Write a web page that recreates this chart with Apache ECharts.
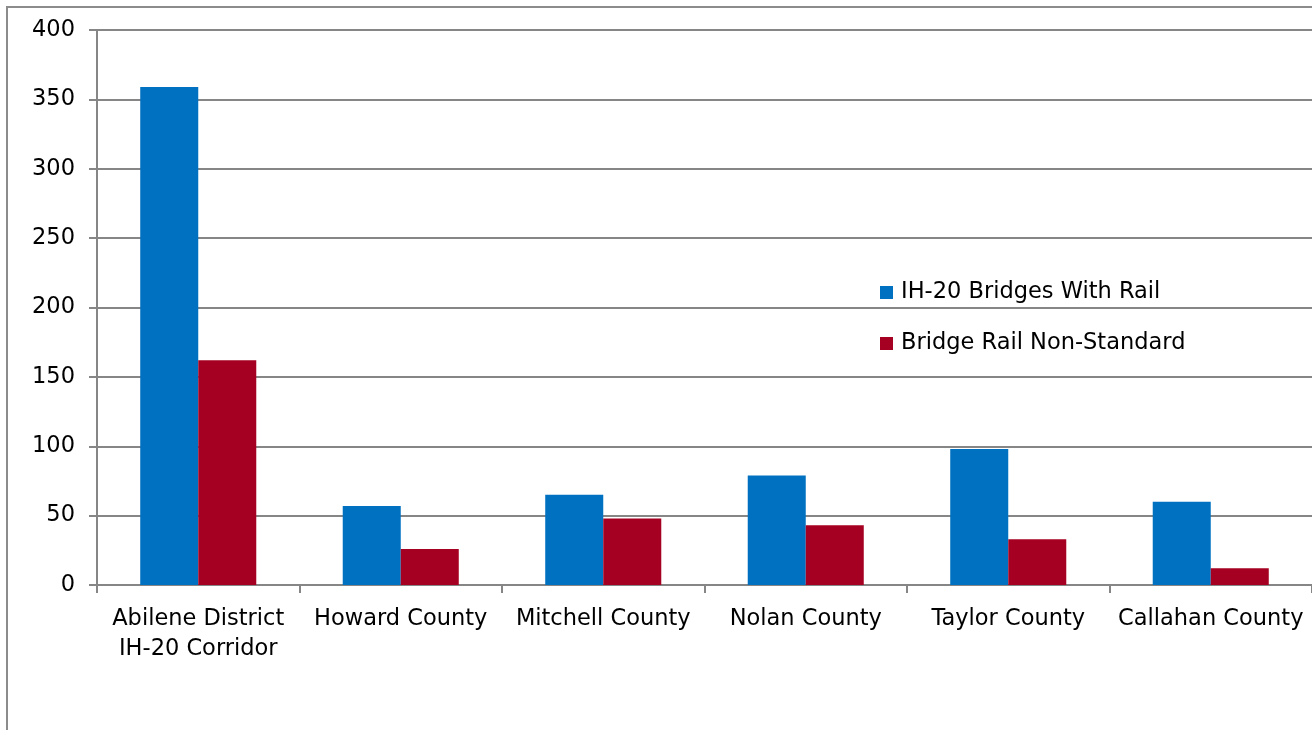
<!DOCTYPE html>
<html><head><meta charset="utf-8">
<script src="https://cdn.jsdelivr.net/npm/echarts@6/dist/echarts.min.js"></script>
<style>html,body{margin:0;padding:0;background:#fff}#c{width:1312px;height:730px}</style>
</head><body><div id="c"></div>
<script>
const categories = ['Abilene District\nIH-20 Corridor','Howard County','Mitchell County','Nolan County','Taylor County','Callahan County'];
const bridgesWithRail = [359, 57, 65, 79, 98, 60];
const railNonStandard = [162, 26, 48, 43, 33, 12];
const yTicks = [0, 400, 50];
const FONT = 'DejaVu Sans';
const chart = echarts.init(document.getElementById('c'));
chart.setOption({
  animation: false,
  textStyle: {fontFamily: FONT},
  graphic: [{type:'rect', shape:{x:7,y:7,width:1400,height:800}, style:{fill:'none', stroke:'#8c8c8c', lineWidth:2}, z:-1}],
  grid: {left: 97, right: -1, top: 30, bottom: 145},
  legend: {
    orient: 'vertical', left: 875, top: 276, itemGap: 28, itemWidth: 13, itemHeight: 13,
    icon: 'rect', textStyle: {fontSize: 22.5, color: '#000', fontFamily: FONT, padding:[0,0,0,3]},
    data: ['IH-20 Bridges With Rail','Bridge Rail Non-Standard']
  },
  xAxis: {
    type: 'category', data: categories,
    axisLine: {lineStyle: {color: '#868686', width: 2}},
    axisTick: {show: true, length: 8, lineStyle: {color: '#868686', width: 2}},
    axisLabel: {color: '#000', fontSize: 22.5, margin: 19, lineHeight: 30, interval: 0}
  },
  yAxis: {
    type: 'value', min: yTicks[0], max: yTicks[1], interval: yTicks[2],
    axisLine: {show: true, lineStyle: {color: '#868686', width: 2}},
    axisTick: {show: true, length: 8, lineStyle: {color: '#868686', width: 2}},
    splitLine: {lineStyle: {color: '#868686', width: 2}},
    axisLabel: {color: '#000', fontSize: 22.5, margin: 22, padding: [6,0,0,0]}
  },
  series: [
    {name: 'IH-20 Bridges With Rail', type: 'bar', data: bridgesWithRail, itemStyle: {color: '#0070C0'}, barGap: '0%', barCategoryGap: '42.7%'},
    {name: 'Bridge Rail Non-Standard', type: 'bar', data: railNonStandard, itemStyle: {color: '#A50021'}, barGap: '0%', barCategoryGap: '42.7%'}
  ]
});
</script></body></html>
